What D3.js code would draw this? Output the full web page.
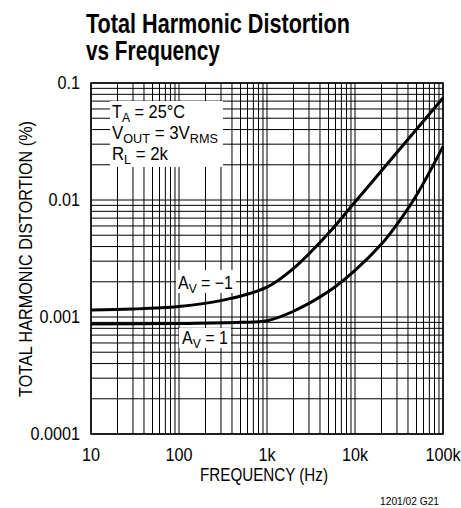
<!DOCTYPE html>
<html>
<head>
<meta charset="utf-8">
<script src="https://cdn.jsdelivr.net/npm/d3@7"></script>
<style>
  body { margin: 0; background: #fff; }
  svg { display: block; }
  text { font-family: "Liberation Sans", Arial, Helvetica, sans-serif; fill: #000; }
</style>
</head>
<body>
<svg id="chart" width="461" height="508"></svg>
<script>
// ---- data ----
const xTickValues = [10, 100, 1000, 10000, 100000];
const xTickLabels = ["10", "100", "1k", "10k", "100k"];
const yTickValues = [0.0001, 0.001, 0.01, 0.1];
const yTickLabels = ["0.0001", "0.001", "0.01", "0.1"];

const freqInv = [10, 30, 100, 300, 1000, 2000, 5000, 10000, 20000, 50000, 100000];
const thdInv  = [0.00115, 0.00117, 0.00123, 0.00138, 0.0018, 0.0026, 0.0052, 0.0096, 0.0178, 0.0402, 0.0745];

const freqNon = [10, 100, 500, 1000, 2000, 5000, 10000, 20000, 30000, 50000, 100000];
const thdNon  = [0.00087, 0.00088, 0.0009, 0.00093, 0.00112, 0.00165, 0.0025, 0.0042, 0.0062, 0.011, 0.0286];

// ---- layout ----
const svg = d3.select("#chart");
const x = d3.scaleLog().domain([10, 100000]).range([91, 443]);
const y = d3.scaleLog().domain([0.0001, 0.1]).range([434, 83]);

// text helper: horizontally scaled text (narrow face emulation)
function label(parent, xx, yy, opts) {
  const grp = parent.append("g").attr("transform", `translate(${xx},${yy})${opts.rotate ? " rotate(" + opts.rotate + ")" : ""}`);
  const t = grp.append("text").attr("x", 0).attr("y", 0)
    .attr("font-size", opts.size).attr("text-anchor", opts.anchor || "start");
  if (opts.weight) t.attr("font-weight", opts.weight);
  const size = opts.size;
  (opts.parts || [[opts.text, 0]]).forEach(([s, sub]) => {
    t.append("tspan").text(s)
      .attr("font-size", sub ? size * 0.75 : size)
      .attr("baseline-shift", sub ? "-30%" : null);
  });
  let sx = opts.scale || 1;
  if (opts.width) {
    const w = t.node().getComputedTextLength();
    sx = opts.width / w;
  }
  t.attr("transform", `scale(${sx},1)`);
  return t;
}

// grid values
const xGrid = [];
for (let d = 10; d < 100000; d *= 10) for (let m = 1; m <= 9; m++) xGrid.push(d * m);
xGrid.push(100000);
const yGrid = [];
for (let d = 0.0001; d < 0.1 - 1e-12; d *= 10) for (let m = 1; m <= 9; m++) yGrid.push(+(d * m).toPrecision(3));
yGrid.push(0.1);

const g = svg.append("g");
g.selectAll("line.vx").data(xGrid).join("line")
  .attr("x1", d => x(d)).attr("x2", d => x(d))
  .attr("y1", y(0.0001)).attr("y2", y(0.1))
  .attr("stroke", "#000").attr("stroke-width", 1);
g.selectAll("line.hy").data(yGrid).join("line")
  .attr("y1", d => y(d)).attr("y2", d => y(d))
  .attr("x1", x(10)).attr("x2", x(100000))
  .attr("stroke", "#000").attr("stroke-width", 1);

// border
svg.append("rect")
  .attr("x", x(10)).attr("y", y(0.1))
  .attr("width", x(100000) - x(10)).attr("height", y(0.0001) - y(0.1))
  .attr("fill", "none").attr("stroke", "#000").attr("stroke-width", 1.5);

// legend box
svg.append("rect").attr("x", 110).attr("y", 101).attr("width", 113).attr("height", 66).attr("fill", "#fff");
label(svg, 112, 118, { size: 18, width: 73, parts: [["T", 0], ["A", 1], [" = 25°C", 0]] });
label(svg, 112, 139, { size: 18, width: 106, parts: [["V", 0], ["OUT", 1], [" = 3V", 0], ["RMS", 1]] });
label(svg, 112, 160, { size: 18, width: 56, parts: [["R", 0], ["L", 1], [" = 2k", 0]] });

// curve labels
svg.append("rect").attr("x", 176).attr("y", 270).attr("width", 60).attr("height", 23).attr("fill", "#fff");
svg.append("rect").attr("x", 179).attr("y", 328).attr("width", 52).attr("height", 20).attr("fill", "#fff");
label(svg, 178, 289, { size: 18, width: 55, parts: [["A", 0], ["V", 1], [" = \u22121", 0]] });
label(svg, 182, 344, { size: 18, width: 46, parts: [["A", 0], ["V", 1], [" = 1", 0]] });

// curves
const line = d3.line().x(d => x(d[0])).y(d => y(d[1])).curve(d3.curveCatmullRom.alpha(0.5));
svg.append("path").datum(freqInv.map((f, i) => [f, thdInv[i]]))
  .attr("d", line).attr("fill", "none").attr("stroke", "#000").attr("stroke-width", 3);
svg.append("path").datum(freqNon.map((f, i) => [f, thdNon[i]]))
  .attr("d", line).attr("fill", "none").attr("stroke", "#000").attr("stroke-width", 3);

// tick labels
xTickValues.forEach((v, i) => label(svg, x(v), 461, { size: 18, scale: 0.9, anchor: "middle", text: xTickLabels[i] }));
yTickValues.forEach((v, i) => label(svg, 80, y(v) + 6, { size: 18, scale: 0.9, anchor: "end", text: yTickLabels[i] }));

// axis titles
label(svg, 264, 481, { size: 18, width: 128, anchor: "middle", text: "FREQUENCY (Hz)" });
label(svg, 32, 259, { size: 18, width: 276, anchor: "middle", rotate: -90, text: "TOTAL HARMONIC DISTORTION (%)" });
label(svg, 439, 505, { size: 11, width: 59, anchor: "end", text: "1201/02 G21" });

// title
label(svg, 86, 33, { size: 27, weight: "bold", width: 264, text: "Total Harmonic Distortion" });
label(svg, 86, 60, { size: 27, weight: "bold", width: 134, text: "vs Frequency" });
</script>
</body>
</html>
